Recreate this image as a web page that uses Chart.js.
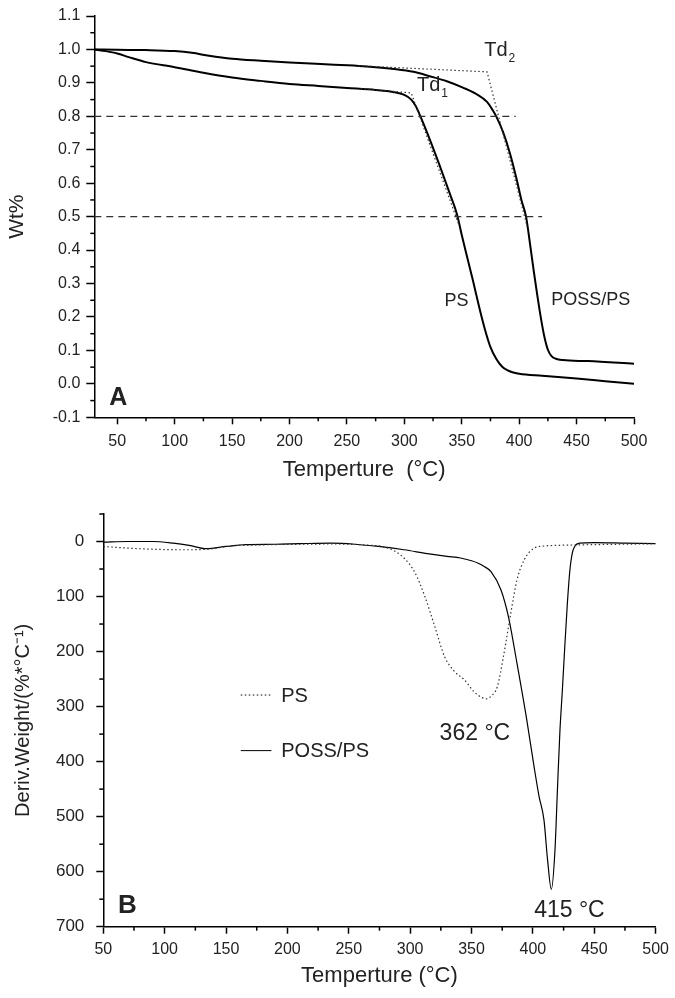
<!DOCTYPE html>
<html>
<head>
<meta charset="utf-8">
<title>TGA / DTG</title>
<script src="https://cdn.jsdelivr.net/npm/chart.js@4.4.1/dist/chart.umd.min.js"></script>
<style>
  html, body { margin: 0; padding: 0; background: #fff; }
  canvas { display: block; }
</style>
</head>
<body>
<canvas id="tga_chart" width="675" height="498"></canvas>
<canvas id="dtg_chart" width="675" height="500"></canvas>
<script>
// ---- panel A : weight fraction vs temperature ----
const psTemp = [30, 40, 50, 60, 75, 100, 125, 150, 175, 200, 225, 250, 275, 290, 300, 306, 310, 314, 320, 330, 340, 346, 350, 355, 360, 365, 370, 375, 380, 385, 390, 395, 400, 420, 450, 475, 500];
const psWt   = [1.000, 0.995, 0.988, 0.977, 0.962, 0.947, 0.930, 0.916, 0.906, 0.897, 0.891, 0.885, 0.879, 0.873, 0.864, 0.850, 0.830, 0.800, 0.750, 0.660, 0.565, 0.505, 0.445, 0.375, 0.305, 0.232, 0.165, 0.110, 0.075, 0.052, 0.040, 0.034, 0.030, 0.024, 0.016, 0.008, 0.000];

const possTemp = [30, 50, 75, 100, 115, 130, 150, 175, 200, 235, 264, 293, 308, 322, 337, 351, 363, 372, 377, 380, 386, 392, 398, 402, 406, 409, 413, 416, 419, 422, 425, 428, 432, 438, 460, 500];
const possWt   = [1.000, 0.999, 0.998, 0.995, 0.990, 0.981, 0.972, 0.966, 0.961, 0.955, 0.950, 0.941, 0.933, 0.920, 0.905, 0.886, 0.866, 0.843, 0.818, 0.800, 0.753, 0.689, 0.609, 0.549, 0.500, 0.430, 0.330, 0.260, 0.195, 0.140, 0.102, 0.084, 0.075, 0.071, 0.068, 0.060];

// onset construction lines (Td1, Td2)
const td1Temp = [262, 306, 347];
const td1Wt   = [0.883, 0.870, 0.48];
const td2Temp = [260, 372, 407];
const td2Wt   = [0.951, 0.933, 0.47];

// reference levels 80% and 50%
const lvl80Temp = [30, 397];
const lvl80Wt   = [0.8, 0.8];
const lvl50Temp = [30, 420];
const lvl50Wt   = [0.5, 0.5];

const tgaTicksX = [50, 100, 150, 200, 250, 300, 350, 400, 450, 500];
const tgaMinorX = [75, 125, 175, 225, 275, 325, 375, 425, 475];
const tgaTicksY = [-0.1, 0, 0.1, 0.2, 0.3, 0.4, 0.5, 0.6, 0.7, 0.8, 0.9, 1.0, 1.1];
const tgaMinorY = [-0.05, 0.05, 0.15, 0.25, 0.35, 0.45, 0.55, 0.65, 0.75, 0.85, 0.95, 1.05];

const tgaNoteText = ['PS', 'POSS/PS', 'A', 'Td', 'Td'];
const tgaNoteSub  = ['', '', '', '1', '2'];
const tgaNoteT    = [335, 428, 43, 311, 369.6];
const tgaNoteWt   = [0.232, 0.235, -0.064, 0.876, 0.98];

// ---- panel B : derivative weight vs temperature ----
const psDtgTemp = [50, 70, 90, 115, 135, 155, 180, 210, 235, 260, 282, 295, 304, 312, 320, 328, 336, 344, 352, 358, 362, 366, 371, 376, 382, 387, 393, 401, 410, 420, 440, 470, 500];
const psDtg     = [9, 12, 14, 15, 14, 8, 6, 5, 4.5, 6, 12, 30, 57, 100, 154, 209, 236, 251, 273, 283, 286, 281, 264, 209, 130, 70, 33, 12, 8, 7, 6, 5, 4];

const possDtgTemp = [50, 70, 90, 107, 120, 134, 150, 166, 190, 210, 236, 255, 274, 295, 314, 330, 341, 350, 355, 360, 366, 374, 380, 387, 395, 401, 405, 409, 412, 415, 418, 420, 422, 424, 426, 428, 430, 432, 434, 438, 450, 475, 500];
const possDtg     = [1, 0, 0, 3, 7, 13, 9, 5.5, 5, 4, 3, 5, 9, 15, 22, 27, 30, 35, 39, 45, 55, 88, 136, 221, 324, 410, 463, 506, 580, 632, 560, 450, 345, 270, 190, 115, 55, 22, 9, 3, 2, 3, 4];

const dtgTicksX = [50, 100, 150, 200, 250, 300, 350, 400, 450, 500];
const dtgMinorX = [75, 125, 175, 225, 275, 325, 375, 425, 475];
const dtgTicksY = [0, 100, 200, 300, 400, 500, 600, 700];
const dtgMinorY = [-50, 50, 150, 250, 350, 450, 550, 650];

const dtgNoteText = ['362 °C', '415 °C', 'B'];
const dtgNoteT    = [324, 401, 62];
const dtgNoteVal  = [360, 682, 675];

const legendNames = ['PS', 'POSS/PS'];
const legendT     = [162, 187, 195];
const legendVal   = [279, 380];

Chart.defaults.font.family = "'Liberation Sans', Arial, sans-serif";
Chart.defaults.color = '#222';

function pts(xs, ys) {
    return xs.map((x, i) => ({ x: x, y: ys[i] }));
}

// minor ticks, free text and the small legend
const extras = {
    id: 'extras',
    afterDraw(chart, args, opts) {
        const ctx = chart.ctx;
        const xs = chart.scales.x;
        const ys = chart.scales.y;
        ctx.save();
        ctx.strokeStyle = '#000';
        ctx.lineWidth = 1.5;
        opts.minorX.forEach(v => {
            const px = xs.getPixelForValue(v);
            ctx.beginPath();
            ctx.moveTo(px, xs.top);
            ctx.lineTo(px, xs.top + 4);
            ctx.stroke();
        });
        opts.minorY.forEach(v => {
            const py = ys.getPixelForValue(v);
            ctx.beginPath();
            ctx.moveTo(ys.right, py);
            ctx.lineTo(ys.right - 4, py);
            ctx.stroke();
        });

        ctx.fillStyle = '#222';
        ctx.textBaseline = 'alphabetic';
        ctx.textAlign = 'left';
        opts.notes.forEach(n => {
            const px = xs.getPixelForValue(n.x);
            const py = ys.getPixelForValue(n.y);
            ctx.font = (n.bold ? 'bold ' : '') + n.size + "px 'Liberation Sans', Arial, sans-serif";
            ctx.fillText(n.text, px, py);
            if (n.sub) {
                const w = ctx.measureText(n.text).width;
                ctx.font = Math.round(n.size * 0.62) + "px 'Liberation Sans', Arial, sans-serif";
                ctx.fillText(n.sub, px + w + 1, py + 6);
            }
        });

        if (opts.legend) {
            opts.legend.forEach(l => {
                const py = ys.getPixelForValue(l.y);
                ctx.strokeStyle = '#000';
                ctx.lineWidth = 1;
                ctx.setLineDash(l.dash);
                ctx.beginPath();
                ctx.moveTo(xs.getPixelForValue(l.x0), py);
                ctx.lineTo(xs.getPixelForValue(l.x1), py);
                ctx.stroke();
                ctx.setLineDash([]);
                ctx.font = "20px 'Liberation Sans', Arial, sans-serif";
                ctx.textBaseline = 'middle';
                ctx.fillText(l.text, xs.getPixelForValue(l.tx), py + 1);
            });
        }
        ctx.restore();
    }
};

function axisX(min, max, ticks, height, pad, titleText, titlePad) {
    return {
        type: 'linear', min: min, max: max,
        afterBuildTicks: s => { s.ticks = ticks.map(v => ({ value: v })); },
        afterFit: s => { s.height = height; },
        grid: { drawOnChartArea: false, drawTicks: true, tickLength: 7, tickColor: '#000', tickWidth: 1.5 },
        border: { display: true, color: '#000', width: 1.5 },
        ticks: { font: { size: 16 }, padding: pad, maxRotation: 0, autoSkip: false },
        title: { display: true, text: titleText, font: { size: 22 }, padding: { top: 0, bottom: titlePad } }
    };
}

// ---------- chart A ----------
const tgaNotes = tgaNoteText.map((t, i) => ({
    text: t, sub: tgaNoteSub[i], x: tgaNoteT[i], y: tgaNoteWt[i],
    size: t === 'A' ? 25 : (t === 'Td' ? 20 : 18), bold: t === 'A'
}));

const solidTga = { borderColor: '#000', borderWidth: 2, pointRadius: 0, cubicInterpolationMode: 'monotone' };
const dashed = { borderColor: '#333', borderWidth: 1.2, pointRadius: 0, borderDash: [7, 5] };
const dotted = { borderColor: '#333', borderWidth: 1.2, pointRadius: 0, borderDash: [1.5, 2.5] };

new Chart(document.getElementById('tga_chart'), {
    type: 'line',
    data: {
        datasets: [
            Object.assign({ label: 'lvl80', data: pts(lvl80Temp, lvl80Wt) }, dashed),
            Object.assign({ label: 'lvl50', data: pts(lvl50Temp, lvl50Wt) }, dashed),
            Object.assign({ label: 'Td1', data: pts(td1Temp, td1Wt) }, dotted),
            Object.assign({ label: 'Td2', data: pts(td2Temp, td2Wt) }, dotted),
            Object.assign({ label: 'PS', data: pts(psTemp, psWt) }, solidTga),
            Object.assign({ label: 'POSS/PS', data: pts(possTemp, possWt) }, solidTga)
        ]
    },
    options: {
        responsive: false,
        animation: false,
        layout: { padding: { top: 16, right: 41, left: 0, bottom: 0 } },
        scales: {
            x: axisX(30, 500, tgaTicksX, 80.7, 8, 'Temperture  (°C)', 15),
            y: {
                type: 'linear', min: -0.1, max: 1.1,
                afterBuildTicks: s => { s.ticks = tgaTicksY.map(v => ({ value: v })); },
                afterFit: s => { s.width = 94.3; s.paddingTop = 0; s.paddingBottom = 0; },
                grid: { drawOnChartArea: false, drawTicks: true, tickLength: 8, tickColor: '#000', tickWidth: 1.5 },
                border: { display: true, color: '#000', width: 1.5 },
                ticks: { font: { size: 16 }, padding: 6, callback: v => v.toFixed(1) },
                title: { display: true, text: 'Wt%', font: { size: 21 }, padding: { top: 5, bottom: 0 } }
            }
        },
        plugins: {
            legend: { display: false },
            tooltip: { enabled: false },
            extras: { minorX: tgaMinorX, minorY: tgaMinorY, notes: tgaNotes }
        }
    },
    plugins: [extras]
});

// ---------- chart B ----------
const dtgNotes = dtgNoteText.map((t, i) => ({
    text: t, sub: '', x: dtgNoteT[i], y: dtgNoteVal[i],
    size: t === 'B' ? 26 : 23, bold: t === 'B'
}));
const dtgLegend = [
    { text: legendNames[0], x0: legendT[0], x1: legendT[1], tx: legendT[2], y: legendVal[0], dash: [1.5, 2.5] },
    { text: legendNames[1], x0: legendT[0], x1: legendT[1], tx: legendT[2], y: legendVal[1], dash: [] }
];

new Chart(document.getElementById('dtg_chart'), {
    type: 'line',
    data: {
        datasets: [
            { label: 'PS', data: pts(psDtgTemp, psDtg), borderColor: '#333', borderWidth: 1.2, borderDash: [1.5, 2.5], pointRadius: 0, cubicInterpolationMode: 'monotone' },
            { label: 'POSS/PS', data: pts(possDtgTemp, possDtg), borderColor: '#000', borderWidth: 1.2, pointRadius: 0, cubicInterpolationMode: 'monotone' }
        ]
    },
    options: {
        responsive: false,
        animation: false,
        layout: { padding: { top: 16, right: 15.7, left: 0, bottom: 0 } },
        scales: {
            x: axisX(50, 500, dtgTicksX, 71.3, 6, 'Temperture (°C)', 9),
            y: {
                type: 'linear', min: -50, max: 700, reverse: true,
                afterBuildTicks: s => { s.ticks = dtgTicksY.map(v => ({ value: v })); },
                afterFit: s => { s.width = 103.3; s.paddingTop = 0; s.paddingBottom = 0; },
                grid: { drawOnChartArea: false, drawTicks: true, tickLength: 7, tickColor: '#000', tickWidth: 1.5 },
                border: { display: true, color: '#000', width: 1.5 },
                ticks: { font: { size: 17 }, padding: 12 },
                title: { display: true, text: 'Deriv.Weight/(%*°C⁻¹)', font: { size: 20 }, padding: { top: 11, bottom: 0 } }
            }
        },
        plugins: {
            legend: { display: false },
            tooltip: { enabled: false },
            extras: { minorX: dtgMinorX, minorY: dtgMinorY, notes: dtgNotes, legend: dtgLegend }
        }
    },
    plugins: [extras]
});
</script>
</body>
</html>
